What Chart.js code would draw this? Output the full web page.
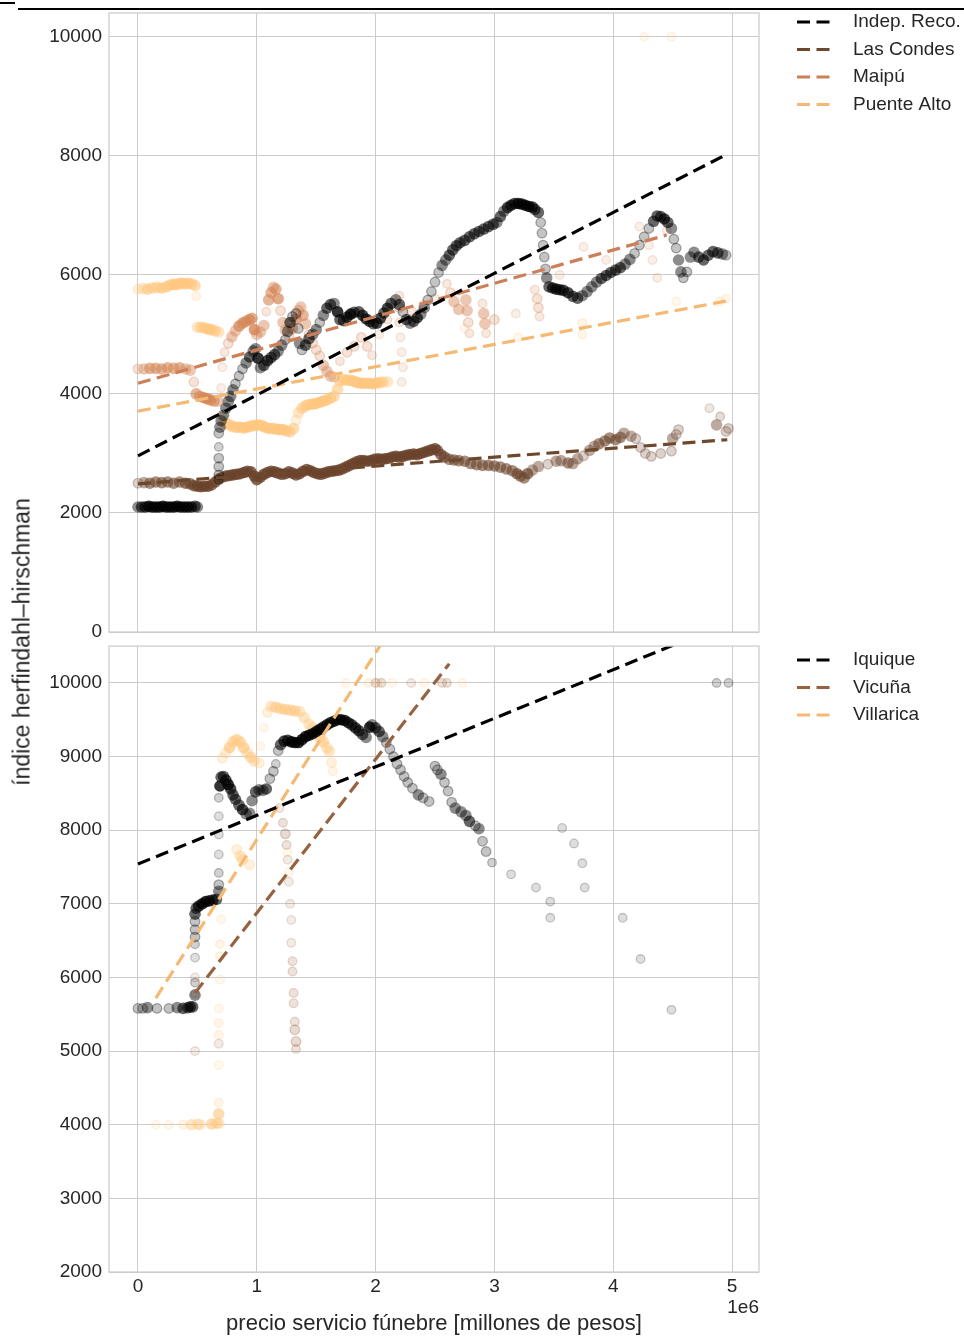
<!DOCTYPE html>
<html>
<head>
<meta charset="utf-8">
<script src="https://cdn.jsdelivr.net/npm/chart.js@4.4.0/dist/chart.umd.min.js"></script>
<style>
  body { margin: 0; background: #fff; width: 964px; height: 1336px; overflow: hidden; position: relative;
         font-family: "Liberation Sans", Arial, sans-serif; }
  #top { position: absolute; left: 0; top: 0; }
  #bottom { position: absolute; left: 0; top: 640px; }
  #ylabel { position: absolute; left: 22px; top: 642px; transform: translate(-50%, -50%) rotate(-90deg);
            font-size: 23px; color: #262626; white-space: nowrap; }
  #rule { position: absolute; left: 18px; top: 8px; width: 946px; height: 2px; background: #000; }
  #mark { position: absolute; left: 0; top: 2px; width: 15px; height: 2px; background: #000; }
</style>
</head>
<body>
<div id="rule"></div><div id="mark"></div>
<canvas id="top" width="964" height="640" style="width:964px;height:640px"></canvas>
<canvas id="bottom" width="964" height="696" style="width:964px;height:696px"></canvas>
<div id="ylabel">índice herfindahl–hirschman</div>
<script>
// ejes (precio en millones de pesos, eje escalado 1e6)
const xTicks = [0, 1, 2, 3, 4, 5];
const topYTicks = [0, 2000, 4000, 6000, 8000, 10000];
const bottomYTicks = [2000, 3000, 4000, 5000, 6000, 7000, 8000, 9000, 10000];

const topSeries = ['Indep. Reco.', 'Las Condes', 'Maipú', 'Puente Alto'];
const bottomSeries = ['Iquique', 'Vicuña', 'Villarica'];

// panel superior
const indepRecoPts = [
  [0.00,2100],[0.03,2100],[0.06,2100],[0.09,2110],[0.12,2100],[0.15,2100],[0.18,2100],[0.21,2110],[0.24,2100],
  [0.27,2100],[0.30,2100],[0.33,2110],[0.36,2100],[0.39,2100],[0.42,2100],[0.45,2100],[0.48,2110],[0.50,2100],
  [0.68,2560],[0.68,2640],[0.68,2780],[0.68,2920],[0.68,3110],[0.68,3340],[0.69,3440],
  [0.70,3550],[0.72,3640],[0.74,3760],[0.76,3870],[0.78,3960],[0.80,4070],[0.82,4170],[0.85,4300],[0.88,4420],
  [0.91,4520],[0.94,4620],[0.97,4720],[0.99,4760],[1.01,4600],[1.03,4440],[1.06,4480],[1.09,4560],[1.12,4610],
  [1.15,4660],[1.18,4720],[1.21,4820],[1.24,4910],[1.26,5050],[1.28,5200],[1.30,5300],[1.33,5350],[1.35,5100],
  [1.36,4850],[1.38,4740],[1.41,4820],[1.44,4930],[1.47,5000],[1.50,5080],[1.53,5200],[1.56,5320],[1.59,5440],
  [1.62,5500],[1.65,5520],[1.68,5380],[1.70,5250],[1.73,5230],[1.76,5290],[1.79,5340],[1.82,5370],[1.86,5380],
  [1.89,5320],[1.92,5260],[1.95,5220],[1.98,5180],[2.01,5190],[2.04,5270],[2.07,5360],[2.10,5440],[2.13,5520],
  [2.17,5580],[2.20,5500],[2.23,5380],[2.26,5250],[2.29,5190],[2.32,5220],[2.35,5280],[2.38,5340],[2.41,5450],
  [2.44,5580],[2.47,5720],[2.50,5880],[2.53,6040],[2.56,6160],[2.59,6250],[2.62,6330],[2.65,6420],[2.68,6490],
  [2.71,6540],[2.75,6580],[2.79,6640],[2.83,6690],[2.87,6730],[2.91,6770],[2.95,6810],[2.99,6850],[3.02,6880],
  [3.05,6980],[3.08,7070],[3.11,7130],[3.14,7170],[3.17,7200],[3.20,7200],[3.23,7190],[3.26,7170],[3.29,7150],
  [3.32,7140],[3.34,7100],[3.37,7050],[3.39,6880],[3.40,6700],[3.41,6500],[3.42,6300],[3.43,6100],[3.44,5950],
  [3.46,5800],[3.49,5780],[3.52,5760],[3.55,5750],[3.58,5740],[3.62,5700],[3.66,5640],[3.70,5610],[3.74,5650],
  [3.78,5720],[3.82,5800],[3.86,5880],[3.90,5940],[3.94,5990],[3.98,6040],[4.02,6080],[4.06,6120],[4.10,6180],
  [4.14,6260],[4.18,6360],[4.22,6500],[4.26,6640],[4.30,6780],[4.34,6900],[4.37,6990],[4.40,6980],[4.43,6940],
  [4.46,6880],[4.49,6780],[4.51,6600],[4.53,6450],[4.55,6250],[4.57,6050],[4.59,5950],[4.62,6050],[4.65,6300],
  [4.68,6380],[4.72,6300],[4.76,6250],[4.80,6330],[4.84,6390],[4.88,6370],[4.92,6350],[4.95,6330]
];
const lasCondesPts = [
  [0.00,2500],[0.05,2510],[0.10,2500],[0.15,2520],[0.20,2510],[0.25,2520],[0.30,2500],[0.35,2520],[0.40,2500],
  [0.44,2490],[0.47,2460],[0.50,2450],[0.53,2440],[0.56,2450],[0.59,2450],[0.62,2470],[0.65,2520],[0.68,2570],
  [0.71,2600],[0.74,2620],[0.77,2630],[0.80,2640],[0.83,2650],[0.86,2660],[0.89,2680],[0.92,2700],[0.95,2690],
  [0.98,2620],[1.00,2560],[1.03,2600],[1.06,2650],[1.09,2680],[1.12,2700],[1.15,2690],[1.18,2670],[1.21,2650],
  [1.24,2660],[1.27,2690],[1.30,2670],[1.33,2640],[1.36,2660],[1.39,2700],[1.42,2730],[1.45,2710],[1.48,2680],
  [1.51,2660],[1.54,2650],[1.57,2670],[1.60,2690],[1.63,2700],[1.66,2710],[1.69,2720],[1.72,2740],[1.75,2770],
  [1.78,2800],[1.81,2830],[1.84,2860],[1.87,2880],[1.90,2880],[1.93,2870],[1.96,2880],[1.99,2900],[2.02,2910],
  [2.05,2900],[2.08,2910],[2.11,2920],[2.14,2940],[2.17,2950],[2.20,2940],[2.23,2950],[2.26,2970],[2.29,2980],
  [2.32,2990],[2.35,2980],[2.38,3000],[2.41,3020],[2.44,3040],[2.47,3060],[2.50,3080],[2.52,3050],[2.55,2980],
  [2.58,2940],[2.62,2900],[2.66,2890],[2.70,2880],[2.75,2870],[2.80,2830],[2.85,2810],[2.90,2800],[2.95,2800],
  [3.00,2790],[3.05,2770],[3.10,2740],[3.15,2710],[3.19,2660],[3.22,2620],[3.25,2590],[3.28,2660],[3.32,2720],
  [3.37,2780],[3.45,2820],[3.52,2870],[3.56,2880],[3.62,2840],[3.66,2830],[3.70,2910],[3.75,2960],[3.80,3050],
  [3.84,3120],[3.88,3160],[3.93,3210],[3.97,3260],[4.02,3230],[4.06,3270],[4.09,3340],[4.15,3290],[4.19,3250],
  [4.23,3100],[4.27,3000],[4.32,2950],[4.40,3000],[4.49,3040],[4.50,3250],[4.53,3320],[4.55,3400],[4.81,3760],
  [4.87,3480],[4.90,3620],[4.95,3370],[4.97,3420]
];
const maipuPts = [
  [0.00,4420],[0.05,4420],[0.10,4430],[0.15,4430],[0.20,4420],[0.25,4440],[0.30,4430],[0.35,4440],[0.40,4420],
  [0.44,4400],[0.47,4200],[0.49,4000],[0.52,3960],[0.55,3940],[0.58,3920],[0.61,3900],[0.64,3880],[0.67,3880],
  [0.70,4100],[0.71,4450],[0.73,4700],[0.76,4850],[0.79,4960],[0.82,5060],[0.85,5140],[0.88,5190],[0.91,5220],
  [0.94,5250],[0.96,5270],[0.98,5080],[1.00,5000],[1.03,5040],[1.06,5150],[1.08,5380],[1.10,5580],[1.12,5700],
  [1.14,5790],[1.16,5760],[1.18,5600],[1.20,5400],[1.22,5200],[1.24,5070],[1.27,4970],[1.30,5100],[1.33,5260],
  [1.35,5400],[1.37,5460],[1.39,5320],[1.41,5180],[1.44,5000],[1.47,4850],[1.50,4740],[1.53,4640],[1.56,4480],
  [1.59,4380],[1.62,4300],[1.65,4280],[1.70,4550],[1.76,4700],[1.82,4800],[1.88,4950],[1.93,4800],[1.97,4650],
  [2.03,5000],[2.10,5250],[2.20,5650],[2.20,5450],[2.20,5200],[2.21,4950],[2.22,4700],[2.23,4450],[2.22,4200],
  [2.30,5400],[2.40,5500],[2.50,5600],[2.60,5850],[2.63,5700],[2.66,5550],[2.70,5420],[2.76,5580],[2.77,5400],
  [2.78,5200],[2.79,5020],[2.90,5520],[2.91,5350],[2.92,5180],[2.93,5020],[3.00,5250],[3.18,5350],[3.34,5750],
  [3.36,5600],[3.37,5450],[3.38,5300],[3.55,6000],[3.75,6470],[3.94,6250],[4.05,6150],[4.22,6810],[4.30,6500],
  [4.33,6250],[4.37,5950],[4.45,6750]
];
const puenteAltoPts = [
  [0.00,5760],[0.04,5770],[0.08,5760],[0.12,5780],[0.16,5790],[0.20,5780],[0.24,5800],[0.27,5830],[0.30,5840],
  [0.33,5840],[0.36,5860],[0.39,5850],[0.42,5860],[0.45,5850],[0.48,5820],[0.49,5640],[0.50,5120],[0.53,5120],
  [0.56,5110],[0.59,5090],[0.62,5080],[0.65,5060],[0.68,5040],[0.71,3600],[0.74,3500],[0.77,3480],[0.80,3450],
  [0.83,3440],[0.86,3440],[0.89,3430],[0.92,3440],[0.95,3460],[0.98,3470],[1.01,3480],[1.04,3470],[1.07,3440],
  [1.10,3420],[1.13,3420],[1.16,3410],[1.19,3400],[1.22,3400],[1.25,3380],[1.28,3360],[1.31,3420],[1.33,3560],
  [1.35,3680],[1.38,3760],[1.41,3800],[1.44,3820],[1.47,3830],[1.50,3840],[1.53,3860],[1.56,3880],[1.59,3900],
  [1.62,3930],[1.65,3960],[1.68,4080],[1.70,4220],[1.73,4240],[1.76,4230],[1.79,4230],[1.82,4210],[1.85,4190],
  [1.88,4180],[1.91,4180],[1.94,4180],[1.97,4170],[2.00,4180],[2.03,4190],[2.06,4200],[2.10,4200],
  [2.75,5100],[3.20,4950],[3.74,5000],[3.74,5190],[4.26,10000],[4.49,10000],[4.53,5550],[4.89,5550],[4.95,5600]
];
// rectas de ajuste: [x inicial, y inicial], [x final, y final]
const indepRecoFit = [[0, 2960], [4.95, 8020]];
const lasCondesFit = [[0, 2490], [4.96, 3230]];
const maipuFit = [[0, 4180], [4.45, 6670]];
const puenteAltoFit = [[0, 3710], [4.95, 5560]];

// panel inferior
const iquiquePts = [
  [0.00,5580],[0.04,5580],[0.08,5590],[0.16,5580],[0.26,5580],[0.33,5590],[0.38,5580],[0.42,5590],[0.44,5600],
  [0.46,5600],[0.48,5760],[0.48,5930],[0.48,6270],[0.48,6450],[0.48,6550],[0.48,6650],[0.48,6760],[0.48,6860],
  [0.49,6940],[0.51,6970],[0.54,7000],[0.57,7030],[0.60,7040],[0.63,7050],[0.66,7060],[0.68,7170],[0.68,7260],
  [0.68,7420],[0.68,7670],[0.68,7940],[0.68,8190],[0.68,8440],[0.69,8600],[0.70,8720],[0.72,8730],[0.74,8680],
  [0.76,8620],[0.78,8560],[0.80,8480],[0.82,8420],[0.85,8340],[0.88,8280],[0.91,8220],[0.94,8230],[0.96,8400],
  [0.99,8520],[1.02,8550],[1.05,8540],[1.08,8560],[1.11,8700],[1.14,8800],[1.16,8900],[1.18,9080],[1.20,9160],
  [1.23,9210],[1.26,9220],[1.29,9200],[1.32,9190],[1.35,9190],[1.38,9230],[1.41,9270],[1.44,9290],[1.47,9310],
  [1.50,9340],[1.53,9370],[1.56,9400],[1.59,9430],[1.62,9460],[1.65,9480],[1.68,9500],[1.71,9500],[1.74,9490],
  [1.77,9460],[1.80,9430],[1.83,9390],[1.86,9350],[1.89,9300],[1.92,9260],[1.95,9400],[1.97,9430],[2.00,9390],
  [2.03,9340],[2.06,9270],[2.09,9190],[2.12,9100],[2.15,9000],[2.18,8900],[2.21,8820],[2.24,8730],[2.27,8650],
  [2.31,8570],[2.36,8480],[2.40,8440],[2.45,8390],[2.50,8870],[2.52,8820],[2.55,8760],[2.58,8650],[2.61,8530],
  [2.64,8380],[2.67,8300],[2.72,8250],[2.76,8200],[2.79,8120],[2.84,8060],[2.87,8020],[2.90,7850],[2.93,7710],
  [2.98,7560],[3.14,7400],[3.35,7220],[3.47,7030],[3.47,6810],[3.57,8030],[3.67,7820],[3.74,7550],[3.76,7220],
  [4.08,6810],[4.23,6250],[4.49,5560],[4.87,10000],[4.97,10000]
];
const vicunaPts = [
  [0.48,5000],[0.48,5780],[0.48,6000],[0.68,5100],[1.19,8300],[1.22,8100],[1.24,7950],[1.25,7800],[1.26,7600],
  [1.27,7300],[1.28,7000],[1.29,6780],[1.29,6470],[1.30,6220],[1.30,6080],[1.31,5790],[1.31,5650],[1.32,5400],
  [1.32,5290],[1.33,5130],[1.33,5030],[2.00,10000],[2.05,10000],[2.30,10000],[2.56,10000],[2.60,10000]
];
const villaricaPts = [
  [0.15,4000],[0.26,4000],[0.38,4000],[0.45,4000],[0.50,4010],[0.52,4000],[0.62,4010],[0.66,4020],[0.68,4020],
  [0.68,4150],[0.68,4300],[0.68,4810],[0.68,5220],[0.68,5380],[0.68,5580],[0.69,5970],[0.69,6290],[0.69,6450],
  [0.70,6790],[0.71,8980],[0.74,9050],[0.77,9120],[0.80,9200],[0.83,9230],[0.86,9200],[0.89,9120],[0.92,9050],
  [0.95,8990],[0.98,8940],[1.02,8910],[1.03,9140],[1.06,9390],[1.09,9600],[1.12,9680],[1.16,9670],[1.20,9650],
  [1.24,9640],[1.28,9630],[1.32,9620],[1.36,9610],[1.40,9530],[1.44,9440],[1.47,9390],[1.50,9320],[1.53,9260],
  [1.56,9200],[1.59,9120],[1.61,9070],[1.63,8920],[1.64,8800],[0.83,7740],[0.86,7650],[0.88,7600],[0.94,7530],
  [1.26,7700],[1.27,7430],[1.75,10000],[1.94,10000],[2.02,10000],[2.14,10000],[2.41,10000],[2.73,10000]
];
const iquiqueFit = [[0, 7540], [4.97, 10820]];
const vicunaFit = [[0.48, 5790], [2.62, 10260]];
const villaricaFit = [[0.15, 5720], [2.73, 12260]];

const FONT = '"Liberation Sans", Arial, sans-serif';
const TEXT = '#262626';
const GRID = '#cccccc';
const X_MIN = -0.244, X_MAX = 5.227;

// cuántos vecinos tiene cada punto (en píxeles): donde hay muchos juntos se ve más oscuro
function neighbours(pts, yMin, yMax) {
  const sx = 650 / (X_MAX - X_MIN), sy = 620 / (yMax - yMin);
  return pts.map(([x, y]) => {
    let n = 0;
    pts.forEach(([u, v]) => {
      const dx = (u - x) * sx, dy = (v - y) * sy;
      if (dx * dx + dy * dy < 169) n++;
    });
    return n;
  });
}

const ALPHA_BY_COUNT = [0, 0.13, 0.18, 0.23, 0.45, 0.6, 0.7, 0.8];

function scatterSet(label, pts, rgb, yMin, yMax) {
  const counts = neighbours(pts, yMin, yMax);
  const alphas = counts.map(n => ALPHA_BY_COUNT[Math.min(n, ALPHA_BY_COUNT.length - 1)]);
  return {
    label: label,
    data: pts.map(([x, y]) => ({ x: x, y: y })),
    pointBackgroundColor: alphas.map(a => `rgba(${rgb},${a})`),
    pointBorderColor: alphas.map(a => `rgba(${rgb},${Math.min(1, a + 0.08).toFixed(3)})`),
    pointBorderWidth: counts.map(n => n >= 4 ? 0 : 1.3),
    pointRadius: counts.map(n => n >= 4 ? 5.8 : (n >= 3 ? 4.8 : 4.3)),
    order: 1
  };
}

function fitSet(label, ends, rgb) {
  return {
    label: label,
    isFit: true,
    data: ends.map(([x, y]) => ({ x: x, y: y })),
    showLine: true,
    borderColor: `rgb(${rgb})`,
    borderWidth: 3.2,
    borderDash: [13, 6.5],
    pointRadius: 0,
    clip: 0,
    order: 0
  };
}

const decor = {
  id: 'decor',
  afterDraw(chart, args, opts) {
    const ctx = chart.ctx, a = chart.chartArea;
    ctx.save();
    ctx.strokeStyle = GRID;
    ctx.lineWidth = 1.25;
    ctx.strokeRect(a.left, a.top, a.right - a.left, a.bottom - a.top);

    ctx.font = '19px ' + FONT;
    ctx.textBaseline = 'middle';
    ctx.textAlign = 'left';
    let y = opts.legendTop;
    chart.data.datasets.filter(d => d.isFit).forEach(d => {
      ctx.strokeStyle = d.borderColor;
      ctx.lineWidth = d.borderWidth;
      ctx.setLineDash(d.borderDash);
      ctx.beginPath();
      ctx.moveTo(797, y);
      ctx.lineTo(833, y);
      ctx.stroke();
      ctx.setLineDash([]);
      ctx.fillStyle = TEXT;
      ctx.fillText(d.label, 853, y);
      y += 27.5;
    });

    (opts.texts || []).forEach(t => {
      ctx.font = t.size + 'px ' + FONT;
      ctx.textAlign = t.align;
      ctx.fillStyle = TEXT;
      ctx.fillText(t.text, t.x, t.y);
    });
    ctx.restore();
  }
};

function makeOptions(yMin, yMax, yTicks, showX, xHeight, padTop, decorOpts) {
  return {
    responsive: false,
    animation: false,
    events: [],
    layout: { padding: { top: padTop, right: 964 - 759, left: 0, bottom: 0 } },
    plugins: { legend: { display: false }, tooltip: { enabled: false }, decor: decorOpts },
    scales: {
      x: {
        type: 'linear', min: X_MIN, max: X_MAX,
        afterBuildTicks: s => { s.ticks = xTicks.map(v => ({ value: v })); },
        afterFit: s => { s.height = xHeight; s.paddingLeft = 0; s.paddingRight = 0; },
        grid: { color: GRID, lineWidth: 1, drawTicks: false },
        border: { display: false },
        ticks: { display: showX, padding: 3, color: TEXT, font: { family: FONT, size: 19 } }
      },
      y: {
        min: yMin, max: yMax,
        afterBuildTicks: s => { s.ticks = yTicks.map(v => ({ value: v })); },
        afterFit: s => { s.width = 109; s.paddingTop = 0; s.paddingBottom = 0; },
        grid: { color: GRID, lineWidth: 1, drawTicks: false },
        border: { display: false },
        ticks: { padding: 7, color: TEXT, font: { family: FONT, size: 19 }, callback: v => String(v) }
      }
    }
  };
}

new Chart(document.getElementById('top'), {
  type: 'scatter',
  data: {
    datasets: [
      fitSet(topSeries[0], indepRecoFit, '0,0,0'),
      fitSet(topSeries[1], lasCondesFit, '110,72,45'),
      fitSet(topSeries[2], maipuFit, '205,128,88'),
      fitSet(topSeries[3], puenteAltoFit, '245,185,115'),
      scatterSet(topSeries[0], indepRecoPts, '0,0,0', 0, 10400),
      scatterSet(topSeries[1], lasCondesPts, '106,66,42', 0, 10400),
      scatterSet(topSeries[2], maipuPts, '212,133,85', 0, 10400),
      scatterSet(topSeries[3], puenteAltoPts, '255,199,127', 0, 10400)
    ]
  },
  options: makeOptions(0, 10400, topYTicks, false, 8, 13, { legendTop: 22 }),
  plugins: [decor]
});

new Chart(document.getElementById('bottom'), {
  type: 'scatter',
  data: {
    datasets: [
      fitSet(bottomSeries[0], iquiqueFit, '0,0,0'),
      fitSet(bottomSeries[1], vicunaFit, '150,98,64'),
      fitSet(bottomSeries[2], villaricaFit, '245,185,115'),
      scatterSet(bottomSeries[0], iquiquePts, '0,0,0', 2000, 10500),
      scatterSet(bottomSeries[1], vicunaPts, '159,100,63', 2000, 10500),
      scatterSet(bottomSeries[2], villaricaPts, '255,199,127', 2000, 10500)
    ]
  },
  options: makeOptions(2000, 10500, bottomYTicks, true, 64, 5, {
    legendTop: 20,
    texts: [
      { text: '1e6', x: 759, y: 668, align: 'right', size: 19 },
      { text: 'precio servicio fúnebre [millones de pesos]', x: 434, y: 684, align: 'center', size: 22 }
    ]
  }),
  plugins: [decor]
});
</script>
</body>
</html>
